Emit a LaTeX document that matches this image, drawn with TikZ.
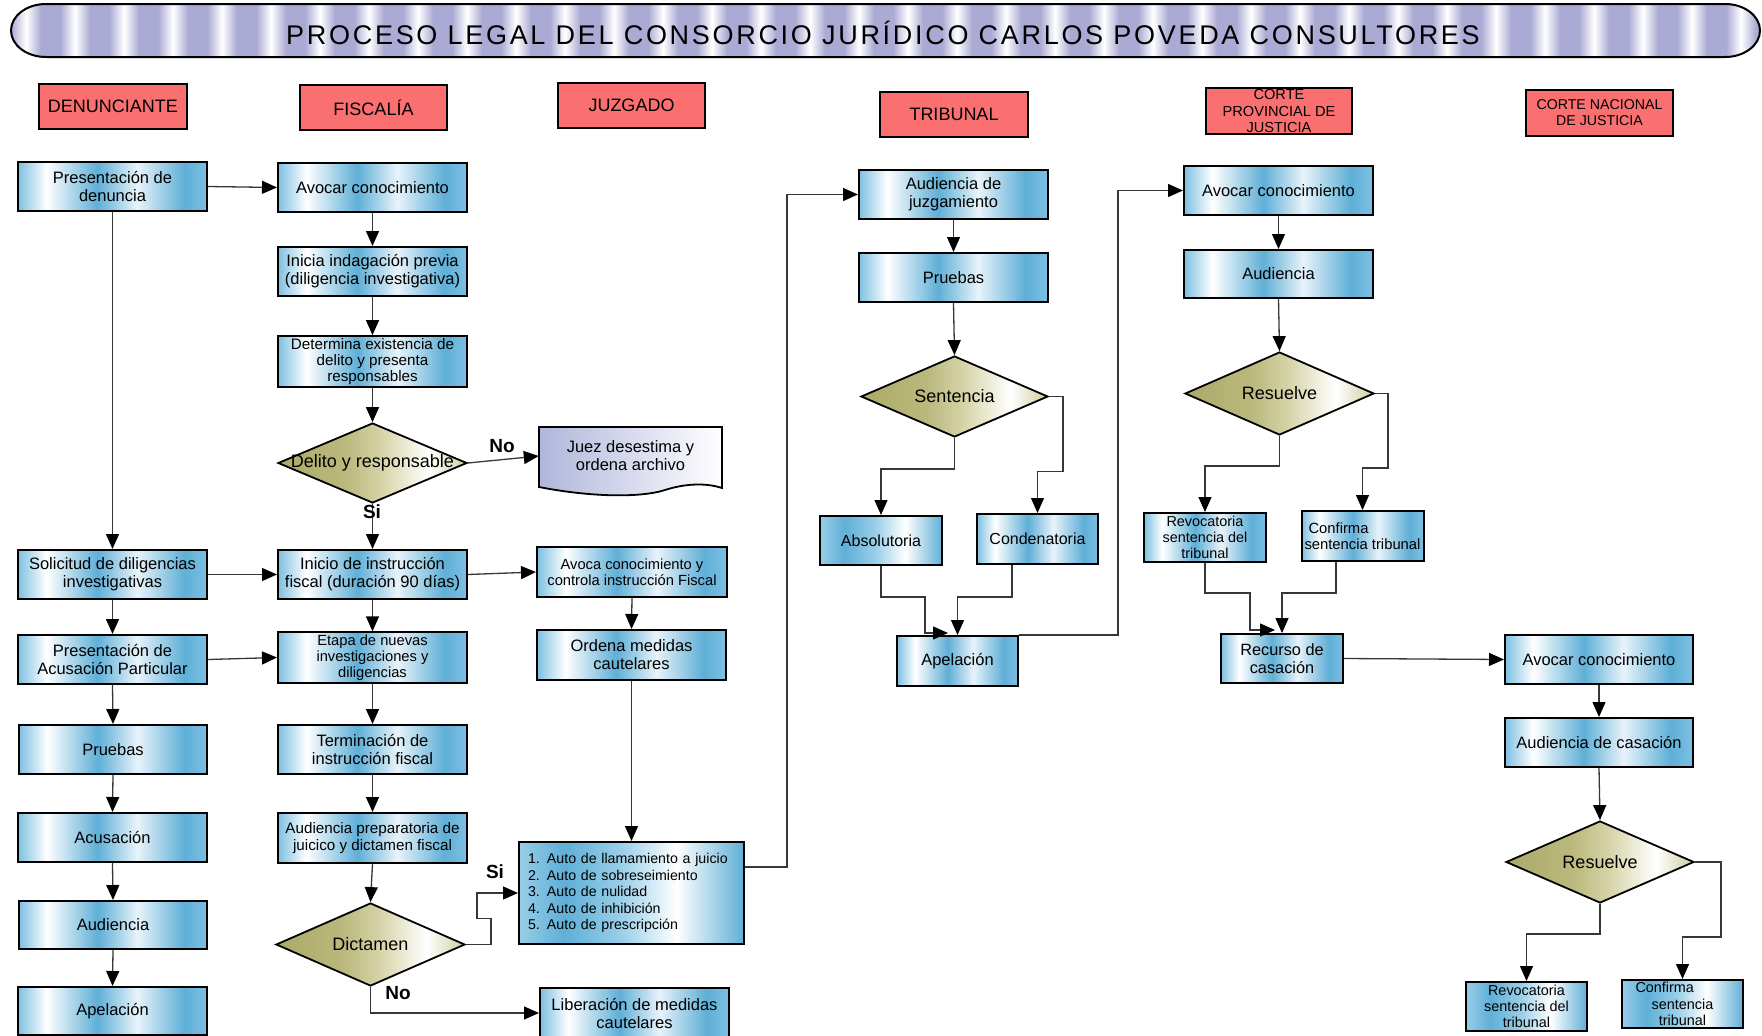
\documentclass[tikz,border=0pt]{standalone}
\usepackage{fontspec}
\setmainfont{Liberation Sans}
\newfontfamily\titlefont[LetterSpace=10]{Liberation Sans}
\usetikzlibrary{arrows.meta,shapes.geometric}

% palette
\definecolor{hdrred}{RGB}{250,112,112}
\definecolor{lnk}{RGB}{55,55,55}
\definecolor{lav}{RGB}{170,170,212}
\definecolor{docl}{RGB}{176,182,218}
\definecolor{bA}{RGB}{125,192,226}
\definecolor{bB}{RGB}{95,175,215}
\definecolor{bC}{RGB}{232,243,250}
\definecolor{bD}{RGB}{152,206,232}
\definecolor{oA}{RGB}{172,170,104}
\definecolor{oB}{RGB}{186,184,124}
\definecolor{oC}{RGB}{214,212,168}
\definecolor{oD}{RGB}{206,204,160}

% horizontal fills (the path is mapped onto 25bp..75bp)
\pgfdeclarehorizontalshading{boxshade}{100bp}{color(0bp)=(bA); color(25bp)=(bA); color(32.5bp)=(white); color(46bp)=(bB); color(56.5bp)=(bC); color(69bp)=(bB); color(75bp)=(bA); color(100bp)=(bA)}
\pgfdeclarehorizontalshading{altshade}{100bp}{color(0bp)=(bD); color(25bp)=(bD); color(35bp)=(bB); color(47.5bp)=(bD); color(60bp)=(white); color(75bp)=(bB); color(100bp)=(bB)}
\pgfdeclarehorizontalshading{diashade}{100bp}{color(0bp)=(oA); color(25bp)=(oA); color(42.5bp)=(oB); color(52.5bp)=(oC); color(65bp)=(white); color(75bp)=(oD); color(100bp)=(oD)}

\tikzset{
  pbox/.style={draw=black, line width=2pt, shade, shading=boxshade, align=center,
    inner sep=2pt, font=\fontsize{16.5}{18}\selectfont},
  sbox/.style={pbox, font=\fontsize{14.7}{16.3}\selectfont},
  dia/.style={diamond, draw=black, line width=1.8pt, shade, shading=diashade, inner sep=0pt},
  dlabel/.style={font=\fontsize{18}{20}\selectfont},
  hdr/.style={draw=black, line width=2pt, fill=hdrred, align=center, inner sep=1pt,
    font=\fontsize{18}{20}\selectfont},
  arr/.style={draw=lnk, line width=1.3pt, -{Triangle[length=15pt,width=13pt,color=black]}},
  lbl/.style={font=\bfseries\fontsize{19}{20}\selectfont, inner sep=0pt},
}

\begin{document}
\begin{tikzpicture}[x=1pt,y=-1pt]
\useasboundingbox (0,0) rectangle (1762,1036);

% ---------- title banner ----------
\begin{scope}
  \clip (46,4) -- (1725,4) arc[start angle=-90, end angle=90, x radius=35, y radius=26.5]
        -- (46,57) arc[start angle=90, end angle=270, x radius=35, y radius=26.5] -- cycle;
  \fill[lav] (0,0) rectangle (1762,60);
  \foreach \i in {0,...,35} {
    \shade[left color=lav, right color=lav, middle color=white] ({11+\i*49},0) rectangle ++(30,60);
  }
\end{scope}
\draw[line width=2pt] (46,4) -- (1725,4) arc[start angle=-90, end angle=90, x radius=35, y radius=26.5]
      -- (46,57) arc[start angle=90, end angle=270, x radius=35, y radius=26.5] -- cycle;
\node[anchor=base, inner sep=0pt, font=\titlefont\fontsize{27}{30}\selectfont] (title) at (883,44)
  {PROCESO LEGAL DEL CONSORCIO JURÍDICO CARLOS POVEDA CONSULTORES};

% ---------- lane headers ----------
\node[hdr, minimum width=148pt, minimum height=45pt] (hden) at (113,106) {DENUNCIANTE};
\node[hdr, minimum width=147pt, minimum height=45pt] (hfis) at (373.5,107.5) {FISCALÍA};
\node[hdr, minimum width=147pt, minimum height=45pt] (hjuz) at (631.5,105.5) {JUZGADO};
\node[hdr, minimum width=148pt, minimum height=45pt] (htri) at (954,114.5) {TRIBUNAL};
\node[hdr, minimum width=146pt, minimum height=46pt, font=\fontsize{14.6}{16.5}\selectfont] (hcp) at (1279,111)
  {CORTE\\PROVINCIAL DE\\JUSTICIA};
\node[hdr, minimum width=147pt, minimum height=46pt, font=\fontsize{14.2}{16}\selectfont] (hcn) at (1599.5,113)
  {CORTE NACIONAL\\DE JUSTICIA};

% ---------- DENUNCIANTE ----------
\node[pbox, minimum width=189pt, minimum height=49pt] (n_pd) at (112.5,186.5) {Presentación de\\denuncia};
\node[pbox, minimum width=189pt, minimum height=49pt] (n_sd) at (112.5,574.5) {Solicitud de diligencias\\investigativas};
\node[pbox, minimum width=189pt, minimum height=49pt] (n_pa) at (112.5,659.5) {Presentación de\\Acusación Particular};
\node[pbox, minimum width=188pt, minimum height=49pt] (n_pr) at (113,749.5) {Pruebas};
\node[pbox, minimum width=189pt, minimum height=49pt] (n_ac) at (112.5,837.5) {Acusación};
\node[pbox, minimum width=188pt, minimum height=48pt] (n_au) at (113,925) {Audiencia};
\node[pbox, minimum width=189pt, minimum height=48pt] (n_ap) at (112.5,1011) {Apelación};

% ---------- FISCALÍA ----------
\node[pbox, minimum width=189pt, minimum height=49pt] (f_av) at (372.5,187.5) {Avocar conocimiento};
\node[pbox, minimum width=189pt, minimum height=49pt] (f_ip) at (372.5,271.5) {Inicia indagación previa\\(diligencia investigativa)};
\node[sbox, minimum width=189pt, minimum height=49pt, font=\fontsize{15.2}{16.3}\selectfont] (f_de) at (372.5,361.5)
  {Determina existencia de\\delito y presenta\\responsables};
\node[dia, minimum width=189pt, minimum height=80pt, label={[dlabel]center:Delito y responsable}] (f_dr) at (372.5,463) {};
\node[pbox, minimum width=189pt, minimum height=49pt] (f_in) at (372.5,574.5) {Inicio de instrucción\\fiscal (duración 90 días)};
\node[sbox, minimum width=189pt, minimum height=49pt] (f_et) at (372.5,657.5) {Etapa de nuevas\\investigaciones y\\diligencias};
\node[pbox, minimum width=189pt, minimum height=49pt] (f_te) at (372.5,749.5) {Terminación de\\instrucción fiscal};
\node[sbox, minimum width=189pt, minimum height=50pt, font=\fontsize{15.2}{16.7}\selectfont] (f_ap) at (372.5,838)
  {Audiencia preparatoria de\\juicico y dictamen fiscal};
\node[dia, minimum width=189pt, minimum height=83pt, label={[dlabel]center:Dictamen}] (f_di) at (370.5,944.5) {};

% ---------- JUZGADO ----------
\shadedraw[left color=docl, right color=white, draw=black, line width=1.8pt]
  (539,427) -- (722,427) -- (722,488)
  .. controls (710,484) and (690,482) .. (665,490)
  .. controls (640,498) and (590,497) .. (539,487) -- cycle;
\node[align=center, minimum width=183pt, minimum height=61pt, font=\fontsize{16.5}{18}\selectfont] (j_jd) at (630.5,456)
  {Juez desestima y\\ordena archivo};
\node[sbox, minimum width=190pt, minimum height=50pt] (j_av) at (632,572) {Avoca conocimiento y\\controla instrucción Fiscal};
\node[pbox, minimum width=189pt, minimum height=50pt] (j_om) at (631.5,655) {Ordena medidas\\cautelares};
\node[pbox, shading=altshade, align=left, text width=207pt, inner xsep=9pt, minimum height=102pt,
      font=\fontsize{14.2}{16.4}\selectfont] (j_au) at (631.5,893)
  {1. Auto de llamamiento a juicio\\2. Auto de sobreseimiento\\3. Auto de nulidad\\4. Auto de inhibición\\5. Auto de prescripción};
\node[pbox, minimum width=189pt, minimum height=50pt] (j_li) at (634.5,1013) {Liberación de medidas\\cautelares};

% ---------- TRIBUNAL ----------
\node[pbox, minimum width=189pt, minimum height=49pt] (t_aj) at (953.5,194.5) {Audiencia de\\juzgamiento};
\node[pbox, minimum width=189pt, minimum height=49pt] (t_pr) at (953.5,277.5) {Pruebas};
\node[dia, minimum width=187pt, minimum height=81pt, label={[dlabel]center:Sentencia}] (t_se) at (954.5,396.5) {};
\node[pbox, shading=altshade, minimum width=122pt, minimum height=49pt, font=\fontsize{16}{18}\selectfont] (t_ab) at (881,540.5) {Absolutoria};
\node[pbox, minimum width=121pt, minimum height=50pt, font=\fontsize{16}{18}\selectfont] (t_co) at (1037.5,539) {Condenatoria};
\node[pbox, minimum width=121pt, minimum height=50pt] (t_ap) at (957.5,661) {Apelación};

% ---------- CORTE PROVINCIAL ----------
\node[pbox, minimum width=189pt, minimum height=49pt] (c_av) at (1278.5,190.5) {Avocar conocimiento};
\node[pbox, minimum width=189pt, minimum height=48pt] (c_au) at (1278.5,274) {Audiencia};
\node[dia, minimum width=189pt, minimum height=83pt, label={[dlabel]center:Resuelve}] (c_re) at (1279.5,393.5) {};
\node[pbox, minimum width=122pt, minimum height=49pt, font=\fontsize{14.4}{16}\selectfont] (c_rv) at (1205,537.5)
  {Revocatoria\\sentencia del\\tribunal};
\node[pbox, align=left, inner xsep=3pt, minimum width=121pt, minimum height=50pt, font=\fontsize{14.8}{16.5}\selectfont] (c_cf) at (1362.5,536)
  {\hspace*{4pt}Confirma\\sentencia tribunal};
\node[pbox, minimum width=122pt, minimum height=49pt, font=\fontsize{16.3}{18}\selectfont] (c_rc) at (1282,658.5) {Recurso de\\casación};

% ---------- CORTE NACIONAL ----------
\node[pbox, minimum width=188pt, minimum height=49pt] (k_av) at (1599,659.5) {Avocar conocimiento};
\node[pbox, minimum width=188pt, minimum height=49pt] (k_ac) at (1599,742.5) {Audiencia de casación};
\node[dia, minimum width=188pt, minimum height=82pt, label={[dlabel]center:Resuelve}] (k_re) at (1600,862) {};
\node[pbox, shading=altshade, minimum width=121pt, minimum height=49pt, font=\fontsize{14.4}{16}\selectfont] (k_rv) at (1526.5,1006.5)
  {Revocatoria\\sentencia del\\tribunal};
\node[pbox, shading=altshade, minimum width=121pt, minimum height=48pt, font=\fontsize{14.4}{16.5}\selectfont] (k_cf) at (1682.5,1004)
  {\makebox[94pt][l]{Confirma}\\sentencia\\tribunal};

% ---------- connectors: DENUNCIANTE ----------
\draw[arr] (n_pd.east) -- (f_av.west);
\draw[arr] (n_pd.south) -- (n_sd.north);
\draw[arr] (n_sd.east) -- (f_in.west);
\draw[arr] (n_sd.south) -- (n_pa.north);
\draw[arr] (n_pa.east) -- (f_et.west);
\draw[arr] (n_pa.south) -- (n_pr.north);
\draw[arr] (n_pr.south) -- (n_ac.north);
\draw[arr] (n_ac.south) -- (n_au.north);
\draw[arr] (n_au.south) -- (n_ap.north);

% ---------- connectors: FISCALÍA ----------
\draw[arr] (f_av.south) -- (f_ip.north);
\draw[arr] (f_ip.south) -- (f_de.north);
\draw[arr] (f_de.south) -- (f_dr.north);
\draw[arr] (f_dr.east) -- (j_jd.west);
\draw[arr] (f_dr.south) -- (f_in.north);
\draw[arr] (f_in.east) -- (j_av.west);
\draw[arr] (f_in.south) -- (f_et.north);
\draw[arr] (f_et.south) -- (f_te.north);
\draw[arr] (f_te.south) -- (f_ap.north);
\draw[arr] (f_ap.south) -- (f_di.north);
\draw[arr] (f_di.east) -- ++(25,0) -- ++(0,-26) -- ++(-14,0) -- ++(0,-25.5) -- (j_au.west);
\draw[arr] (f_di.south) |- (j_li.west);
\node[lbl] (lno1) at (502,446) {No};
\node[lbl] (lsi1) at (372,512) {Si};
\node[lbl] (lsi2) at (495,872) {Si};
\node[lbl] (lno2) at (398,993) {No};

% ---------- connectors: JUZGADO ----------
\draw[arr] (j_av.south) -- (j_om.north);
\draw[arr] (j_om.south) -- (j_au.north);
\draw[arr] ([yshift=26pt]j_au.east) -- ++(42,0) |- (t_aj.west);

% ---------- connectors: TRIBUNAL ----------
\draw[arr] (t_aj.south) -- (t_pr.north);
\draw[arr] (t_pr.south) -- (t_se.north);
\draw[arr] (t_se.south) -- ++(0,31) -| (t_ab.north);
\draw[arr] (t_se.east) -- ++(14,0) -- ++(0,75) -| (t_co.north);
\draw[arr] (t_ab.south) -- ++(0,31) -- ++(44,0) -- ++(0,36) -- ++(23,0);
\draw[arr] ([xshift=-25.5pt]t_co.south) -- ++(0,32) -| (t_ap.north);
\draw[arr] (t_ap.north east) -- ++(99,0) |- (c_av.west);

% ---------- connectors: CORTE PROVINCIAL ----------
\draw[arr] (c_av.south) -- (c_au.north);
\draw[arr] (c_au.south) -- (c_re.north);
\draw[arr] (c_re.south) -- ++(0,30) -| (c_rv.north);
\draw[arr] (c_re.east) -- ++(13,0) -- ++(0,74.5) -| (c_cf.north);
\draw[arr] (c_rv.south) -- ++(0,30) -- ++(45,0) -- ++(0,37) -- ++(25,0);
\draw[arr] ([xshift=-26.5pt]c_cf.south) -- ++(0,31) -| (c_rc.north);
\draw[arr] (c_rc.east) -- (k_av.west);

% ---------- connectors: CORTE NACIONAL ----------
\draw[arr] (k_av.south) -- (k_ac.north);
\draw[arr] (k_ac.south) -- (k_re.north);
\draw[arr] (k_re.south) -- ++(0,30) -| (k_rv.north);
\draw[arr] (k_re.east) -- ++(26,0) -- ++(0,75) -| (k_cf.north);
\end{tikzpicture}
\end{document}
